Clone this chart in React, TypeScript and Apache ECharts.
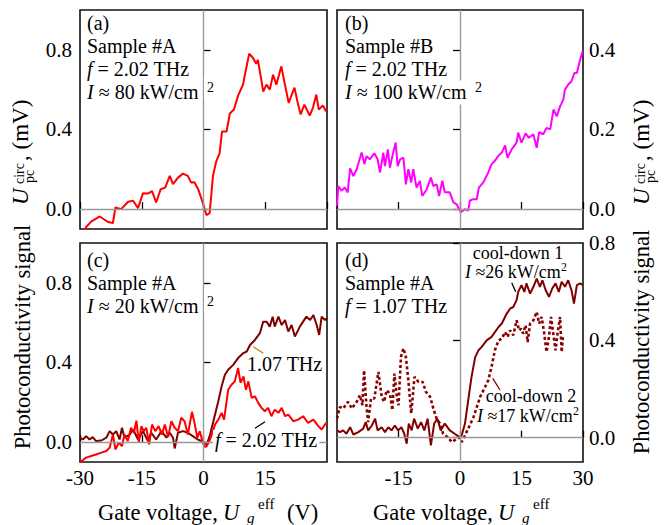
import React, { useEffect, useRef } from "react";
import * as echarts from "echarts";

const FONT = "Liberation Serif";

// Panel (a): Sample #A, 2.02 THz, U_pc^circ (mV)
const voltsA = [-29.5, -28.5, -27.3, -25.2, -23.2, -22.0, -21.4, -20.0, -18.3, -17.1, -15.9, -14.7, -13.5, -12.5, -11.5, -10.4, -9.3, -8.2, -7.4, -6.2, -5.0, -3.8, -3.0, -2.2, -1.3, -0.3, 0.7, 1.5, 2.3, 3.1, 3.9, 4.5, 5.6, 6.4, 7.4, 8.4, 9.6, 10.0, 11.1, 12.0, 12.8, 13.2, 13.9, 14.5, 15.3, 16.1, 16.9, 17.7, 18.9, 19.7, 20.7, 21.3, 22.1, 22.9, 23.6, 24.5, 25.8, 26.6, 27.4, 28.0, 29.0, 29.8];
const signalA = [-0.13, -0.09, -0.063, -0.037, -0.065, -0.07, 0.008, 0.0, 0.037, 0.042, 0.005, 0.08, 0.078, 0.09, 0.033, 0.1, 0.108, 0.167, 0.125, 0.158, 0.178, 0.167, 0.133, 0.135, 0.1, 0.04, -0.03, -0.02, 0.167, 0.24, 0.28, 0.39, 0.39, 0.48, 0.5, 0.57, 0.625, 0.67, 0.78, 0.76, 0.73, 0.75, 0.667, 0.59, 0.625, 0.6, 0.675, 0.625, 0.717, 0.633, 0.533, 0.567, 0.61, 0.533, 0.475, 0.525, 0.47, 0.51, 0.575, 0.5, 0.52, 0.49];

// Panel (b): Sample #B, 2.02 THz
const voltsB = [-30, -29.7, -28.9, -28.1, -27.4, -26.8, -26.0, -25.2, -24.0, -23.3, -22.8, -22.0, -20.9, -20.1, -19.5, -18.7, -18.3, -17.6, -17.1, -16.5, -15.7, -15.2, -14.6, -13.8, -13.2, -12.6, -11.9, -11.4, -10.6, -9.8, -9.2, -8.1, -7.1, -6.5, -5.7, -5.1, -4.3, -3.7, -2.5, -1.6, -0.8, 0.2, 1.2, 2.0, 2.4, 3.2, 4.1, 4.6, 5.7, 6.9, 7.7, 8.5, 9.3, 10.2, 11.0, 11.6, 12.6, 13.8, 14.2, 15.0, 16.0, 16.8, 17.9, 18.7, 19.3, 20.3, 21.1, 22.0, 22.8, 23.6, 24.4, 25.2, 25.6, 26.4, 27.2, 27.9, 28.5, 29.3, 29.9];
const signalB = [0.008, 0.058, 0.046, 0.054, 0.042, 0.102, 0.083, 0.1, 0.142, 0.113, 0.133, 0.125, 0.14, 0.125, 0.092, 0.142, 0.108, 0.15, 0.104, 0.133, 0.167, 0.108, 0.125, 0.129, 0.062, 0.1, 0.067, 0.1, 0.054, 0.071, 0.033, 0.05, 0.079, 0.058, 0.062, 0.033, 0.071, 0.042, 0.042, 0.017, 0.012, -0.008, 0.0, -0.004, 0.021, 0.025, 0.025, 0.054, 0.067, 0.092, 0.113, 0.121, 0.133, 0.142, 0.16, 0.129, 0.15, 0.167, 0.192, 0.167, 0.19, 0.179, 0.188, 0.154, 0.193, 0.188, 0.204, 0.2, 0.25, 0.233, 0.258, 0.275, 0.3, 0.313, 0.321, 0.342, 0.342, 0.375, 0.396];

// Panel (c): Sample #A photoconductivity, 1.07 THz and 2.02 THz
const voltsC107 = [-30, -29.3, -28.5, -27.7, -26.9, -26.1, -24.8, -23.6, -22.8, -22.0, -21.2, -20.4, -19.8, -19.2, -17.9, -17.1, -15.9, -14.7, -13.5, -12.7, -11.5, -10.2, -9.0, -8.2, -7.4, -7.0, -6.2, -5.0, -3.8, -2.6, -1.4, -0.4, 0.3, 0.8, 1.6, 2.4, 3.6, 4.4, 5.2, 6.0, 7.2, 8.4, 9.7, 10.5, 11.3, 12.5, 13.7, 14.5, 15.3, 16.1, 16.8, 17.3, 18.2, 19.0, 19.8, 20.6, 21.4, 22.2, 23.4, 24.2, 25.0, 25.9, 26.7, 27.5, 28.1, 28.7, 29.5, 30];
const signalC107 = [0.022, 0.013, 0.03, 0.013, 0.025, 0.005, 0.008, 0.022, 0.055, 0.038, 0.055, 0.013, 0.072, 0.022, 0.038, 0.063, 0.013, 0.055, 0.005, 0.047, 0.013, 0.055, 0.022, 0.047, 0.022, -0.032, 0.047, 0.055, 0.047, 0.03, 0.013, 0.005, -0.003, -0.012, 0.038, 0.105, 0.205, 0.28, 0.338, 0.363, 0.388, 0.422, 0.447, 0.455, 0.488, 0.513, 0.547, 0.605, 0.605, 0.58, 0.63, 0.58, 0.63, 0.588, 0.613, 0.555, 0.588, 0.53, 0.58, 0.605, 0.63, 0.613, 0.638, 0.588, 0.538, 0.63, 0.613, 0.622];
const voltsC202 = [-30, -29.6, -28.5, -27.3, -26.1, -24.8, -23.6, -22.8, -22.0, -21.4, -20.6, -19.8, -19.2, -18.4, -17.6, -16.9, -16.3, -15.7, -15.1, -14.5, -13.9, -13.2, -12.5, -11.7, -10.9, -10.1, -9.4, -8.6, -7.8, -7.0, -6.2, -5.4, -4.6, -3.8, -2.8, -2.1, -1.5, -0.9, -0.1, 0.5, 0.8, 1.6, 2.8, 3.6, 4.4, 5.0, 6.0, 6.8, 7.6, 8.4, 9.0, 9.7, 10.3, 10.9, 11.7, 12.5, 13.3, 14.1, 14.9, 15.7, 16.5, 17.3, 18.2, 19.0, 19.8, 20.6, 21.8, 23.0, 24.2, 25.4, 26.7, 27.9, 28.7, 29.8];
const signalC202 = [-0.11, -0.095, -0.078, -0.07, -0.062, -0.053, -0.045, -0.028, 0.038, -0.037, -0.003, -0.02, 0.038, 0.005, 0.072, 0.047, 0.108, -0.003, 0.08, 0.055, 0.072, -0.012, 0.088, 0.055, 0.08, 0.038, 0.088, 0.025, 0.105, 0.072, 0.055, 0.122, 0.105, 0.038, 0.152, 0.088, 0.022, 0.055, -0.008, -0.025, -0.02, 0.013, 0.088, 0.113, 0.147, 0.113, 0.263, 0.288, 0.305, 0.372, 0.297, 0.33, 0.263, 0.305, 0.222, 0.23, 0.197, 0.172, 0.155, 0.172, 0.13, 0.163, 0.147, 0.172, 0.13, 0.138, 0.105, 0.113, 0.13, 0.097, 0.113, 0.08, 0.063, 0.097];

// Panel (d): Sample #A, 1.07 THz, cool-down 1 (solid) and cool-down 2 (dotted)
const voltsD1 = [-30, -29.3, -28.5, -27.7, -26.8, -26.0, -24.8, -23.6, -23.0, -22.4, -21.5, -20.7, -20.1, -19.1, -18.3, -17.5, -16.7, -15.9, -15.1, -14.3, -13.6, -13.0, -12.5, -11.8, -11.2, -10.3, -9.5, -8.7, -7.9, -7.1, -6.3, -5.5, -4.7, -3.7, -2.5, -1.3, -0.1, 0.4, 1.2, 2.0, 2.8, 3.7, 4.5, 5.3, 6.5, 7.7, 9.4, 10.2, 11.4, 12.2, 13.0, 13.8, 14.2, 15.0, 15.7, 16.2, 17.1, 17.9, 18.7, 19.5, 20.1, 20.9, 21.7, 22.5, 23.3, 24.1, 24.8, 25.6, 26.4, 27.2, 27.8, 28.5, 29.3, 30];
const signalD1 = [0.03, 0.023, 0.03, 0.016, 0.043, 0.013, 0.023, 0.037, 0.064, 0.03, 0.05, 0.078, 0.03, 0.043, 0.023, 0.043, 0.03, 0.05, 0.03, 0.043, 0.016, -0.025, 0.058, 0.03, 0.078, 0.037, 0.064, 0.03, 0.078, -0.032, 0.058, 0.078, 0.03, 0.058, 0.03, 0.016, 0.002, 0.009, 0.057, 0.153, 0.249, 0.331, 0.359, 0.373, 0.4, 0.414, 0.455, 0.469, 0.51, 0.53, 0.537, 0.565, 0.599, 0.627, 0.599, 0.634, 0.592, 0.62, 0.654, 0.62, 0.647, 0.606, 0.579, 0.613, 0.634, 0.599, 0.641, 0.62, 0.647, 0.606, 0.551, 0.627, 0.634, 0.627];
const voltsD2 = [-30, -29.3, -28.5, -27.3, -26.4, -25.2, -24.4, -23.8, -23.4, -22.8, -22.4, -21.7, -20.9, -19.9, -19.1, -18.5, -17.9, -17.1, -16.5, -16.0, -15.4, -15.0, -14.4, -13.8, -13.2, -12.6, -11.9, -11.1, -10.1, -9.1, -8.3, -7.3, -6.5, -5.7, -4.9, -4.1, -3.0, -2.0, -0.8, -0.1, 0.4, 1.2, 2.0, 3.3, 4.1, 4.9, 6.1, 6.9, 7.7, 8.5, 9.4, 10.2, 11.0, 11.6, 12.2, 13.0, 13.8, 14.4, 14.9, 15.4, 16.0, 16.5, 17.1, 17.9, 18.7, 19.3, 19.9, 20.5, 21.1, 21.7, 22.2, 22.7, 23.3, 23.8, 24.4, 24.8, 25.1];
const signalD2 = [0.078, 0.126, 0.12, 0.147, 0.12, 0.147, 0.175, 0.133, 0.277, 0.126, 0.064, 0.161, 0.161, 0.27, 0.168, 0.147, 0.195, 0.181, 0.113, 0.263, 0.168, 0.133, 0.332, 0.367, 0.332, 0.236, 0.099, 0.25, 0.229, 0.229, 0.188, 0.168, 0.12, 0.078, 0.058, 0.016, 0.002, -0.018, -0.005, 0.0, -0.018, 0.009, 0.037, 0.085, 0.126, 0.167, 0.208, 0.236, 0.291, 0.359, 0.4, 0.407, 0.434, 0.414, 0.441, 0.421, 0.482, 0.441, 0.448, 0.428, 0.462, 0.393, 0.469, 0.482, 0.517, 0.469, 0.496, 0.434, 0.352, 0.414, 0.496, 0.434, 0.359, 0.428, 0.496, 0.352, 0.414];

// Axis ticks
const xTicks = [-30, -15, 0, 15, 30];
const yRange = [
  [-0.1, 1.0],
  [-0.05, 0.5],
  [-0.1, 1.0],
  [-0.1, 0.8],
];
const yTicks = [
  [0, 0.4, 0.8],
  [0, 0.2, 0.4],
  [0, 0.4, 0.8],
  [0, 0.4, 0.8],
];

const zip = (xs: number[], ys: number[]) => xs.map((x, i) => [x, ys[i]]);

type TOpt = { size?: number; align?: string; bg?: string; pad?: number[] };
const gT = (x: number, y: number, text: string, o: TOpt = {}) => {
  const size = o.size ?? 20;
  const style: any = {
    text,
    x: 0,
    y: 0,
    fill: "#000",
    fontFamily: FONT,
    fontSize: size,
    textAlign: o.align ?? "left",
    textVerticalAlign: "middle",
  };
  if (text.indexOf("{i|") >= 0) {
    style.rich = { i: { fontStyle: "italic", fontFamily: FONT, fontSize: size, fill: "#000" } };
  }
  if (o.bg) {
    style.backgroundColor = o.bg;
    style.padding = o.pad ?? [0, 0, 0, 0];
  }
  return { type: "text", x, y, z: 100, style };
};

const gLine = (x1: number, y1: number, x2: number, y2: number, color: string) => ({
  type: "line",
  z: 100,
  shape: { x1, y1, x2, y2 },
  style: { stroke: color, lineWidth: 1.3 },
});

const yTitleCirc = (x: number) => ({
  type: "group",
  x,
  y: 205,
  rotation: Math.PI / 2,
  z: 100,
  children: [
    gT(0, 0, "{i|U}", { size: 23 }),
    gT(21, -1.5, "circ", { size: 14 }),
    gT(22, 9, "pc", { size: 14 }),
    gT(44, 0, ", (mV)", { size: 23 }),
  ],
});

const xTitle = (dx: number, withUnit: boolean) => {
  const els: any[] = [
    gT(98 + dx, 512, "Gate voltage,", { size: 22.5 }),
    gT(223 + dx, 512, "{i|U}", { size: 22.5 }),
    gT(247 + dx, 518, "{i|g}", { size: 15 }),
    gT(258 + dx, 504, "eff", { size: 15 }),
  ];
  if (withUnit) els.push(gT(287 + dx, 512, "(V)", { size: 22.5 }));
  return els;
};

const rotText = (x: number, y: number, text: string) => ({
  type: "text",
  x,
  y,
  rotation: Math.PI / 2,
  z: 100,
  style: {
    text,
    x: 0,
    y: 0,
    fill: "#000",
    fontFamily: FONT,
    fontSize: 22.5,
    textAlign: "center",
    textVerticalAlign: "middle",
  },
});

export default function App() {
  const ref = useRef<HTMLDivElement>(null);

  useEffect(() => {
    if (!ref.current) return;
    const chart = echarts.init(ref.current, undefined, { renderer: "svg" });

    const grids = [
      { left: 80, top: 10, width: 247, height: 219 },
      { left: 337, top: 10, width: 246, height: 219 },
      { left: 80, top: 243, width: 247, height: 219 },
      { left: 337, top: 243, width: 246, height: 219 },
    ].map((g) => ({ ...g, show: true, borderColor: "#111", borderWidth: 1.6, backgroundColor: "transparent" }));

    const xAxis = [0, 1, 2, 3].map((i) => ({
      type: "value",
      gridIndex: i,
      min: xTicks[0],
      max: xTicks[xTicks.length - 1],
      interval: 15,
      axisLine: { show: false },
      axisTick: { show: true, inside: true, length: 7, lineStyle: { color: "#000", width: 1.3 } },
      splitLine: { show: false },
      axisLabel:
        i >= 2
          ? {
              show: true,
              color: "#000",
              fontFamily: FONT,
              fontSize: 21,
              margin: 5,
              showMinLabel: i === 2,
              showMaxLabel: i === 3,
            }
          : { show: false },
    }));

    const yAxis = [0, 1, 2, 3].map((i) => ({
      type: "value",
      gridIndex: i,
      min: yRange[i][0],
      max: yRange[i][1],
      position: i % 2 === 0 ? "left" : "right",
      axisLine: { show: false },
      axisTick: {
        show: true,
        inside: true,
        length: 7,
        customValues: yTicks[i],
        lineStyle: { color: "#000", width: 1.3 },
      },
      splitLine: { show: false },
      axisLabel: {
        show: true,
        customValues: yTicks[i],
        color: "#000",
        fontFamily: FONT,
        fontSize: 21,
        margin: i % 2 === 0 ? 8 : 6,
        formatter: (v: number) => v.toFixed(1),
      },
    }));

    const zeroSeries = [0, 1, 2, 3].map((i) => ({
      type: "line",
      xAxisIndex: i,
      yAxisIndex: i,
      data: [],
      silent: true,
      z: 1,
      markLine: {
        silent: true,
        symbol: ["none", "none"],
        label: { show: false },
        lineStyle: { color: "#999", width: 1.4, type: "solid" },
        data: [{ xAxis: 0 }, { yAxis: 0 }],
      },
    }));

    const curve = (i: number, data: number[][], color: string, dotted = false) => ({
      type: "line",
      xAxisIndex: i,
      yAxisIndex: i,
      data,
      showSymbol: false,
      symbol: "none",
      z: 3,
      lineStyle: dotted
        ? { color, width: 2.6, type: [3, 2.5] }
        : { color, width: 2 },
    });

    const series = [
      ...zeroSeries,
      curve(0, zip(voltsA, signalA), "#ff0000"),
      curve(1, zip(voltsB, signalB), "#ff00ff"),
      curve(2, zip(voltsC107, signalC107), "#800000"),
      curve(2, zip(voltsC202, signalC202), "#ff0000"),
      curve(3, zip(voltsD2, signalD2), "#8b0000", true),
      curve(3, zip(voltsD1, signalD1), "#800000"),
    ];

    const white = "#fff";
    const graphic: any[] = [
      // (a)
      gT(87, 23.4, "(a)"),
      gT(87, 46, "Sample #A"),
      gT(87, 69.4, "{i|f} = 2.02 THz"),
      gT(87, 92.4, "{i|I} ≈ 80 kW/cm", { bg: white, pad: [1, 2, 1, 0] }),
      gT(204, 87, "2", { size: 14, bg: white, pad: [5, 3, 6, 3] }),
      // (b)
      gT(345, 23.4, "(b)"),
      gT(345, 46, "Sample #B"),
      gT(345, 69.4, "{i|f} = 2.02 THz"),
      gT(345, 92.4, "{i|I} ≈ 100 kW/cm", { bg: white, pad: [2, 2, 2, 0] }),
      gT(472, 87, "2", { size: 14, bg: white, pad: [5, 3, 6, 3] }),
      // (c)
      gT(87, 260.4, "(c)"),
      gT(87, 283, "Sample #A"),
      gT(87, 306.4, "{i|I} ≈ 20 kW/cm", { bg: white, pad: [1, 2, 1, 0] }),
      gT(204, 301, "2", { size: 14, bg: white, pad: [5, 3, 6, 3] }),
      gT(247, 363.5, "1.07 THz"),
      gT(213, 440, "{i|f} = 2.02 THz", { bg: white, pad: [0, 2, 0, 2] }),
      gLine(253.3, 346.7, 263.3, 353.3, "#b8860b"),
      gLine(255, 428.3, 265, 421.7, "#000"),
      // (d)
      gT(345, 260.4, "(d)"),
      gT(345, 283, "Sample #A"),
      gT(345, 306.4, "{i|f} = 1.07 THz"),
      gT(518, 253, "cool-down 1", { size: 18, align: "center" }),
      gT(465, 272, "{i|I} ≈26 kW/cm", { size: 18 }),
      gT(561, 266.5, "2", { size: 12 }),
      gT(531, 396, "cool-down 2", { size: 18, align: "center" }),
      gT(477, 416, "{i|I} ≈17 kW/cm", { size: 18 }),
      gT(573, 411, "2", { size: 12 }),
      gLine(511.7, 282.7, 515.7, 291.7, "#000"),
      gLine(492.7, 378.3, 500, 390, "#8b0000"),
      // axis titles
      yTitleCirc(20.5),
      yTitleCirc(641.5),
      rotText(22, 337, "Photoconductivity signal"),
      rotText(641, 342, "Photoconductivity signal"),
      ...xTitle(0, true),
      ...xTitle(275, false),
    ];

    chart.setOption({
      animation: false,
      backgroundColor: "#fff",
      textStyle: { fontFamily: FONT },
      grid: grids,
      xAxis,
      yAxis,
      series,
      graphic,
    });

    return () => chart.dispose();
  }, []);

  return (
    <div
      ref={ref}
      style={{ position: "fixed", left: 0, top: 0, width: 667, height: 525 }}
    />
  );
}
